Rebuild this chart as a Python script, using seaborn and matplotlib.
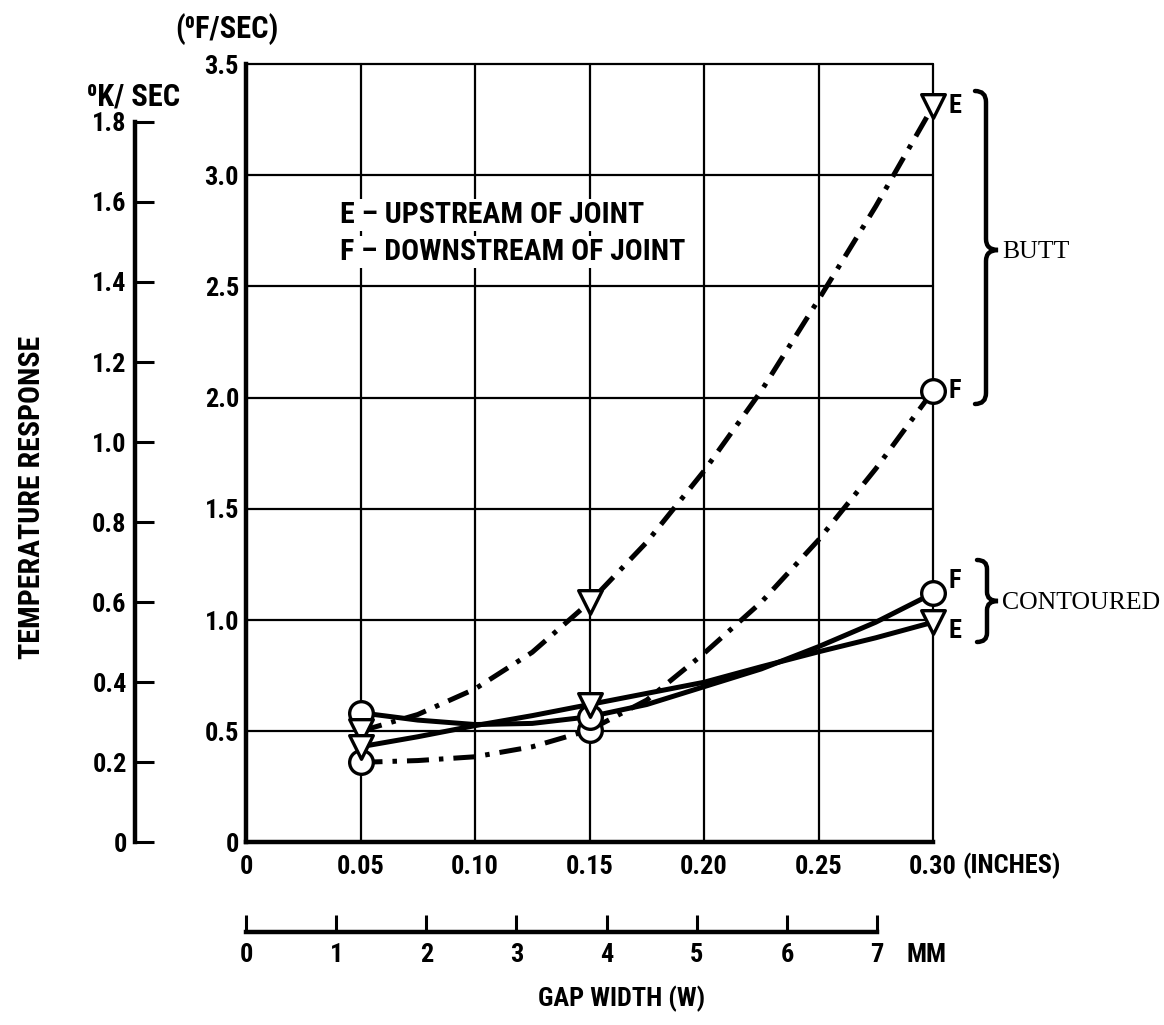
import matplotlib
matplotlib.use("Agg")
import matplotlib.pyplot as plt
import seaborn as sns
from matplotlib import font_manager as fm
from matplotlib.path import Path
from matplotlib.patches import PathPatch

# ---------------- data ----------------
gap_in = [0.05, 0.15, 0.30]                 # measured gap widths (inches)
butt_E = [0.50, 1.08, 3.31]                 # butt joint, upstream (deg F/sec)
butt_F = [0.36, 0.505, 2.03]                # butt joint, downstream
cont_F = [0.583, 0.565, 1.12]               # contoured, downstream
cont_E = [0.43, 0.62, 0.99]                 # contoured, upstream

# faired curves
curve_x = [0.05, 0.075, 0.10, 0.125, 0.15, 0.175, 0.20, 0.225, 0.25, 0.275, 0.30]
butt_E_curve = [0.50, 0.575, 0.69, 0.855, 1.08, 1.35, 1.67, 2.03, 2.44, 2.86, 3.31]
butt_F_curve = [0.36, 0.368, 0.385, 0.43, 0.505, 0.64, 0.85, 1.08, 1.36, 1.68, 2.03]
cont_F_curve = [0.583, 0.55, 0.53, 0.535, 0.565, 0.62, 0.70, 0.78, 0.88, 0.99, 1.12]
cont_E_curve = [0.43, 0.475, 0.525, 0.57, 0.62, 0.67, 0.72, 0.79, 0.857, 0.92, 0.99]

F_ticks = [0, 0.5, 1.0, 1.5, 2.0, 2.5, 3.0, 3.5]
F_labels = ["0", "0.5", "1.0", "1.5", "2.0", "2.5", "3.0", "3.5"]
K_ticks = [0, 0.2, 0.4, 0.6, 0.8, 1.0, 1.2, 1.4, 1.6, 1.8]
K_labels = ["0", "0.2", "0.4", "0.6", "0.8", "1.0", "1.2", "1.4", "1.6", "1.8"]
in_ticks = [0, 0.05, 0.10, 0.15, 0.20, 0.25, 0.30]
in_labels = ["0", "0.05", "0.10", "0.15", "0.20", "0.25", "0.30"]
mm_ticks = [0, 1, 2, 3, 4, 5, 6, 7]
mm_labels = ["0", "1", "2", "3", "4", "5", "6", "7"]
F_PER_K = 1.8
MM_PER_IN = 25.4

# ---------------- fonts ----------------
sns.set_style("white")
names = {f.name for f in fm.fontManager.ttflist}
SANS, STRETCH, FS = "Liberation Sans", "normal", 17.5
for cand, size in [("Roboto Condensed", 19), ("Liberation Sans Narrow", 19)]:
    if cand in names:
        SANS, FS = cand, size
        break
else:
    if any(f.name == "DejaVu Sans" and f.stretch in ("condensed", "semi-condensed")
           for f in fm.fontManager.ttflist):
        SANS, STRETCH, FS = "DejaVu Sans", "condensed", 16.5
plt.rcParams["font.family"] = [SANS, "DejaVu Sans"]
plt.rcParams["font.weight"] = "bold"
plt.rcParams["font.stretch"] = STRETCH
plt.rcParams["text.color"] = "black"
plt.rcParams["axes.edgecolor"] = "black"
SERIF = ["Liberation Serif", "DejaVu Serif"]

W, H = 1164, 1025
def fx(px): return px / W
def fy(py): return 1 - py / H

fig = plt.figure(figsize=(W / 100, H / 100), dpi=100)
fig.patch.set_facecolor("white")

X0, X1, Y0, Y1 = 246, 933, 842.4, 64
ax = fig.add_axes([fx(X0), fy(Y0), (X1 - X0) / W, (Y0 - Y1) / H])

LW = 3.6
dashdot = (0, (4.4, 2.0, 0.9, 2.0))
sns.lineplot(x=curve_x, y=butt_E_curve, ax=ax, color="black", lw=LW,
             linestyle=dashdot, sort=False, estimator=None, zorder=3)
sns.lineplot(x=curve_x, y=butt_F_curve, ax=ax, color="black", lw=LW,
             linestyle=dashdot, sort=False, estimator=None, zorder=3)
sns.lineplot(x=curve_x, y=cont_F_curve, ax=ax, color="black", lw=LW,
             sort=False, estimator=None, zorder=3)
sns.lineplot(x=curve_x, y=cont_E_curve, ax=ax, color="black", lw=LW,
             sort=False, estimator=None, zorder=3)

mk = dict(s=290, color="white", edgecolor="black", linewidth=2.4, zorder=5,
          ax=ax, clip_on=False)
sns.scatterplot(x=gap_in, y=butt_F, marker="o", **mk)
sns.scatterplot(x=gap_in, y=cont_F, marker="o", **mk)
sns.scatterplot(x=gap_in, y=butt_E, marker="v", **mk)
sns.scatterplot(x=gap_in, y=cont_E, marker="v", **mk)

ax.set_xlim(0, in_ticks[-1])
ax.set_ylim(0, F_ticks[-1])
ax.set_xticks(in_ticks)
ax.set_xticklabels(in_labels)
ax.set_yticks(F_ticks)
ax.set_yticklabels(F_labels)
ax.set_xlabel("")
ax.set_ylabel("")
ax.set_axisbelow(True)
ax.grid(True, color="black", lw=1.6)
for gl in ax.get_xgridlines() + ax.get_ygridlines():
    gl.set_clip_on(False)
for s in ["top", "right"]:
    ax.spines[s].set_visible(False)
for s in ["left", "bottom"]:
    ax.spines[s].set_linewidth(3.2)
    ax.spines[s].set_color("black")
ax.tick_params(axis="x", length=0, pad=9, labelsize=FS, colors="black")
ax.tick_params(axis="y", length=0, pad=5, labelsize=FS, colors="black")
if ax.get_legend():
    ax.get_legend().remove()

# endpoint letters
lab = dict(textcoords="offset points", ha="left", va="center", fontsize=FS,
           annotation_clip=False)
ax.annotate("E", xy=(gap_in[-1], butt_E[-1]), xytext=(11.5, 0), **lab)
ax.annotate("F", xy=(gap_in[-1], butt_F[-1]), xytext=(11.5, 0), **lab)
ax.annotate("F", xy=(gap_in[-1], cont_F[-1]), xytext=(11.5, 9), **lab)
ax.annotate("E", xy=(gap_in[-1], cont_E[-1]), xytext=(11.5, -6), **lab)

# secondary K/sec scale
axk = fig.add_axes([fx(135), fy(Y0), 0.02, (Y0 - Y1) / H])
axk.set_ylim(0, F_ticks[-1] / F_PER_K)
axk.patch.set_visible(False)
for s in ["top", "right", "bottom"]:
    axk.spines[s].set_visible(False)
axk.spines["left"].set_linewidth(3.2)
axk.spines["left"].set_color("black")
axk.spines["left"].set_bounds(K_ticks[0], K_ticks[-1])
axk.set_xticks([])
axk.set_yticks(K_ticks)
axk.set_yticklabels(K_labels)
axk.tick_params(axis="y", which="major", left=True, direction="in", length=14,
                width=2.2, pad=6, labelsize=FS, colors="black")

# mm scale
axm = fig.add_axes([fx(X0), fy(932), (X1 - X0) / W, 0.02])
axm.set_xlim(0, in_ticks[-1] * MM_PER_IN)
axm.patch.set_visible(False)
for s in ["top", "right", "left"]:
    axm.spines[s].set_visible(False)
axm.spines["bottom"].set_linewidth(3.2)
axm.spines["bottom"].set_color("black")
axm.spines["bottom"].set_bounds(mm_ticks[0], mm_ticks[-1])
axm.set_yticks([])
axm.set_xticks(mm_ticks)
axm.set_xticklabels(mm_labels)
axm.tick_params(axis="x", which="major", bottom=True, direction="in", length=12,
                width=2.2, pad=8, labelsize=FS, colors="black")

# text
t = dict(ha="center", va="center")
fig.text(fx(227), fy(29), "(\u2070F/SEC)", fontsize=22, **t)
fig.text(fx(134), fy(96), "\u2070K/ SEC", fontsize=22, **t)
fig.text(fx(32), fy(497), "TEMPERATURE RESPONSE", rotation=90, fontsize=21.5, **t)
fig.text(fx(622), fy(999), "GAP WIDTH (W)", fontsize=FS, **t)
fig.text(fx(927), fy(955), "MM", fontsize=FS, **t)
fig.text(fx(963), fy(866), "(INCHES)", ha="left", va="center", fontsize=FS)
leg = dict(ha="left", va="center", fontsize=21.5,
           bbox=dict(fc="white", ec="none", pad=1.5))
fig.text(fx(340), fy(215), "E \u2013 UPSTREAM OF JOINT", **leg)
fig.text(fx(340), fy(252), "F \u2013 DOWNSTREAM OF JOINT", **leg)

# braces
def brace(xl, y0, y1, ymid, xm, xr, c=11):
    pts = [(xl, y0), (xm, y0), (xm, y0 + c),
           (xm, ymid - c), (xm, ymid), (xr, ymid),
           (xm, ymid), (xm, ymid + c),
           (xm, y1 - c), (xm, y1), (xl, y1)]
    codes = [Path.MOVETO, Path.CURVE3, Path.CURVE3,
             Path.LINETO, Path.CURVE3, Path.CURVE3,
             Path.CURVE3, Path.CURVE3,
             Path.LINETO, Path.CURVE3, Path.CURVE3]
    p = Path([(fx(a), fy(b)) for a, b in pts], codes)
    fig.add_artist(PathPatch(p, fill=False, lw=3.2, ec="black",
                             transform=fig.transFigure, capstyle="round"))

brace(975, 91, 404, 250, 986, 998)
brace(977, 560, 642, 601, 987, 998, c=9)
fig.text(fx(1002), fy(252), "BUTT", ha="left", va="center", fontsize=18.5,
         family=SERIF, fontweight="normal", fontstretch="normal")
fig.text(fx(1002), fy(603), "CONTOURED", ha="left", va="center", fontsize=18.5,
         family=SERIF, fontweight="normal", fontstretch="normal")

fig.savefig("out.png", dpi=100, facecolor="white")
